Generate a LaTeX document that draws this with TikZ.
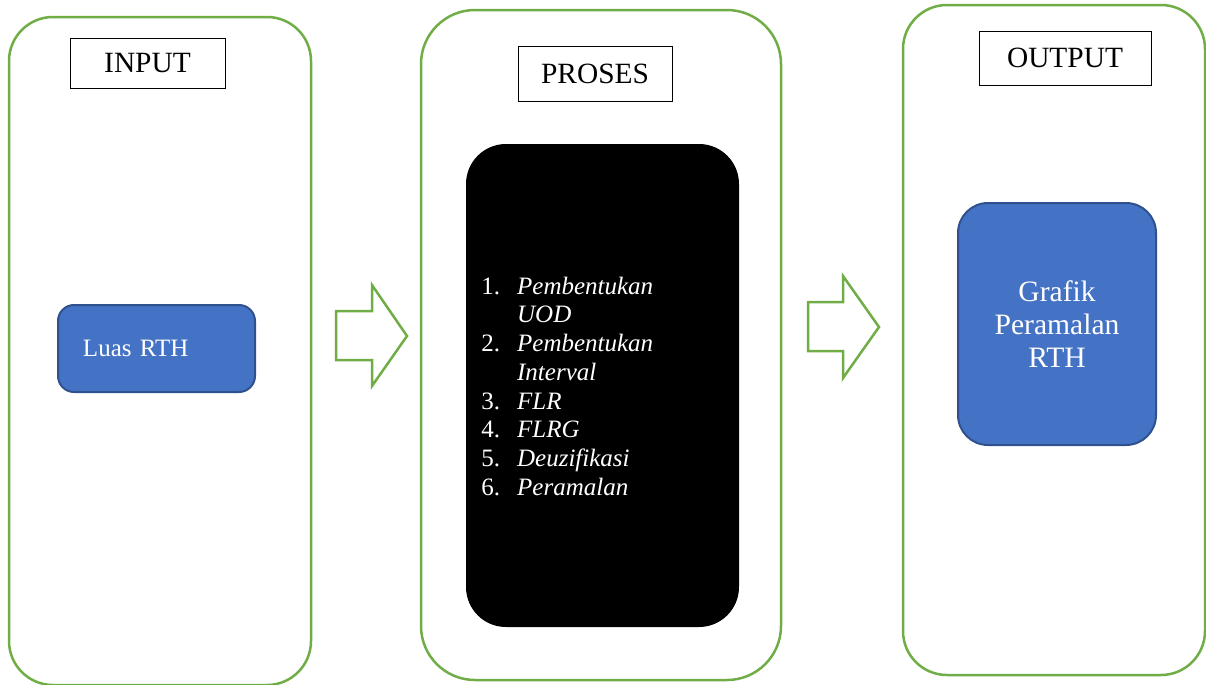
\documentclass[tikz,border=0pt]{standalone}
\usepackage{fontspec}
\setmainfont{Liberation Serif}
\usepackage{tikz}
\definecolor{panelgreen}{HTML}{70AD47}
\definecolor{boxblue}{HTML}{4472C4}
\definecolor{boxedge}{HTML}{2F528F}

\begin{document}
\begin{tikzpicture}[x=0.5pt, y=-0.5pt,
  panel/.style={draw=panelgreen, line width=1.25pt, rounded corners=22pt, inner sep=0pt},
  title/.style={draw=black, line width=0.5pt, inner sep=0pt, font=\fontsize{14.7}{17}\selectfont},
  blue box/.style={draw=boxedge, line width=1pt, fill=boxblue, text=white, inner sep=0pt},
  block arrow/.style={draw=panelgreen, line width=1.25pt, line join=miter}]
  \useasboundingbox (0,0) rectangle (1206,685);

  \node (inp) [panel, minimum width=151pt, minimum height=334pt] at (160,351) {};
  \node (pro) [panel, minimum width=180pt, minimum height=335pt, rounded corners=27pt] at (601,345) {};
  \node (out) [panel, minimum width=151pt, minimum height=335pt] at (1054,340) {};

  \node (tin) [title, minimum width=77.5pt, minimum height=25pt] at (147.5,63) {INPUT};
  \node (tpro) [title, minimum width=77pt, minimum height=27.5pt] at (595,73.5) {PROSES};
  \node (tout) [title, minimum width=86pt, minimum height=27pt] at (1065,58) {OUTPUT};

  \node (luas) [blue box, rounded corners=8pt, minimum width=98.5pt, minimum height=43.5pt,
    text width=73.5pt, inner xsep=12.5pt, align=left, font=\fontsize{12.5}{15}\selectfont]
    at (156.5,348.5) {Luas RTH};

  \node (steps) [fill=black, rounded corners=20pt, minimum width=136.5pt, minimum height=241.5pt]
    at (602.5,385.5) {};
  \node (list) [anchor=west, text=white, inner sep=0pt, font=\fontsize{12.5}{14.35}\selectfont]
    at (481,389) {\begin{tabular}{@{}l@{\hspace{8.5pt}}l@{}}
      1. & \textit{Pembentukan} \\
         & \textit{UOD} \\
      2. & \textit{Pembentukan} \\
         & \textit{Interval} \\
      3. & \textit{FLR} \\
      4. & \textit{FLRG} \\
      5. & \textit{Deuzifikasi} \\
      6. & \textit{Peramalan}
    \end{tabular}};

  \node (graf) [blue box, rounded corners=15pt, minimum width=99pt, minimum height=121pt,
    align=center, font=\fontsize{14.8}{16.5}\selectfont] at (1057,324) {Grafik\\Peramalan\\RTH};

  \draw [block arrow] (336,311) -- (372,311) -- (372,285) -- (407,336) -- (372,386) -- (372,360) -- (336,360) -- cycle;
  \draw [block arrow] (808,302) -- (843,302) -- (843,276) -- (879,327) -- (843,378) -- (843,351) -- (808,351) -- cycle;
\end{tikzpicture}
\end{document}
